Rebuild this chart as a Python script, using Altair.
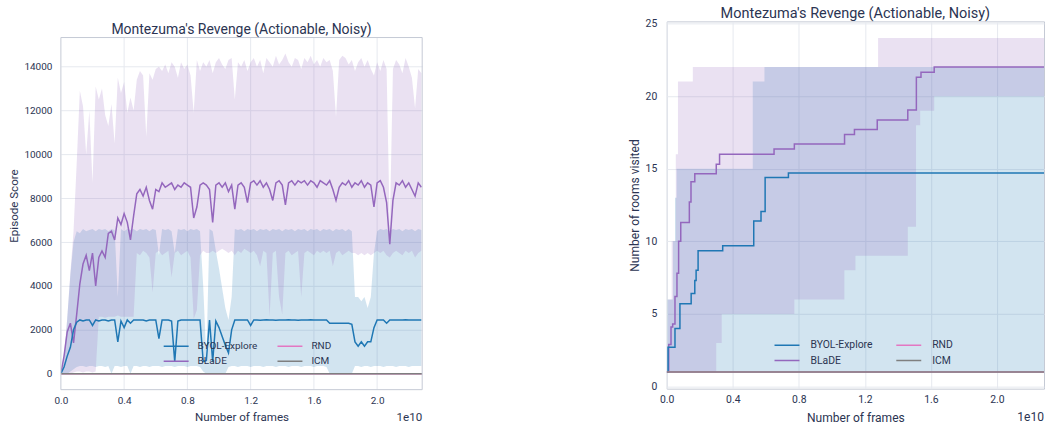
import altair as alt
import pandas as pd

FONT = "Roboto"
TEXT = "#2b3452"
GRID = "#e6e9ef"
BORDER = "#c5cad5"

# ---------------- left panel data (x in units of 1e10 frames) ----------------
X_LEFT = [round(0.02 * i, 2) for i in range(115)]
X_FLAT_LEFT = [0.0, 2.285]
X_TICKS = [0.0, 0.4, 0.8, 1.2, 1.6, 2.0]

BLADE_MEAN_L = [
    0, 800, 1900, 2300, 1400, 2700, 4100, 5000, 5400, 4700,
    5500, 4000, 5300, 5600, 5300, 6400, 6500, 6100, 7100, 6800,
    7300, 6900, 6100, 7200, 8200, 8400, 8100, 8500, 7900, 7500,
    8400, 8300, 8700, 8500, 8600, 8700, 8400, 8600, 8500, 8700,
    8600, 8500, 7100, 7600, 8600, 8700, 8600, 8400, 6900, 8600,
    8700, 8500, 8700, 8300, 8600, 7500, 8600, 8700, 8500, 7800,
    8700, 8800, 8600, 8800, 8500, 8700, 8400, 7900, 8700, 8800,
    8600, 7700, 8700, 8800, 8600, 8800, 8700, 8800, 8600, 8800,
    8700, 8500, 8800, 8700, 8600, 8800, 8400, 7900, 8500, 8700,
    8600, 8800, 8500, 8700, 8600, 8800, 8500, 8700, 8600, 7600,
    8700, 8800, 8500, 7800, 5900, 7900, 8700, 8600, 8800, 8500,
    8700, 8400, 8100, 8700, 8500]
BLADE_HI_L = [
    0, 900, 2500, 4600, 6500, 9600, 12900, 12200, 10000, 12000,
    8700, 13100, 12500, 13000, 11800, 11300, 12300, 10500, 13500, 12800,
    13300, 11900, 12600, 12000, 13400, 13800, 13600, 10800, 13700, 13400,
    13900, 14000, 13800, 14100, 13700, 14200, 14000, 13500, 14200, 13900,
    14100, 13600, 11900, 14300, 13800, 14200, 14000, 14300, 13700, 14200,
    14400, 14100, 13900, 14300, 14400, 12500, 14200, 14000, 14300, 13800,
    14200, 14400, 14000, 14300, 13700, 14400, 14200, 14000, 14500, 14100,
    14300, 14600, 14200, 14000, 14400, 14300, 13900, 14400, 14200, 14500,
    14100, 14300, 14000, 14400, 14200, 14300, 13800, 11700, 14300, 14500,
    14400, 14100, 14300, 13800, 14200, 14400, 14000, 14300, 13900, 13600,
    14200, 13800, 14300, 13900, 6600, 13900, 14300, 14100, 13700, 14400,
    14000, 13500, 12100, 13900, 13700]
BLADE_LO_L = [
    0, 0, 0, 0, 50, 100, 100, 50, 100, 100,
    50, 100, 2600, 2600, 2550, 2600, 2600, 2600, 2650, 2600,
    2600, 2600, 2600, 2600, 5500, 5400, 5600, 5500, 5300, 3700,
    5500, 5600, 5400, 5500, 5600, 4400, 5500, 5600, 5400, 5500,
    5600, 5300, 2500, 2900, 5400, 5600, 5500, 5500, 5600, 5500,
    5600, 5700, 5600, 5500, 5600, 5400, 5600, 5500, 5700, 5600,
    5500, 5600, 5400, 4900, 5600, 5500, 2600, 5500, 5600, 3500,
    2700, 5500, 5600, 5400, 5500, 5600, 3500, 5500, 5600, 5500,
    5400, 5600, 5500, 5600, 5500, 5600, 4900, 5500, 5600, 5400,
    5500, 5600, 5500, 5500, 5400, 5500, 5400, 5500, 5400, 5500,
    5600, 5500, 5600, 5400, 5300, 5500, 5600, 5500, 5400, 5600,
    5500, 5600, 5300, 5500, 5600]
BYOL_MEAN_L = [
    0, 300, 800, 1200, 2000, 2350, 2450, 2400, 2450, 2450,
    2200, 2450, 2400, 2450, 2450, 2400, 2450, 2450, 1450, 2400,
    2100, 2450, 2300, 2450, 2450, 2450, 2450, 2400, 2450, 2450,
    2450, 1600, 2450, 2450, 2450, 2400, 550, 2400, 2450, 2450,
    2450, 2450, 2450, 2450, 2450, 550, 600, 2450, 550, 2400,
    2100, 1700, 1300, 950, 2000, 2450, 2450, 2450, 2450, 2450,
    2200, 2450, 2450, 2440, 2450, 2460, 2450, 2450, 2440, 2450,
    2450, 2450, 2460, 2450, 2450, 2440, 2450, 2450, 2450, 2460,
    2450, 2450, 2450, 2450, 2450, 2300, 2300, 2300, 2300, 2300,
    2300, 2300, 2250, 1450, 1250, 1450, 1250, 1450, 1450, 2100,
    2450, 2450, 2450, 2300, 2450, 2450, 2450, 2450, 2450, 2460,
    2450, 2450, 2450, 2450, 2450]
BYOL_HI_L = [
    0, 500, 2500, 4500, 6000, 6500, 6400, 6600, 6500, 6550,
    6600, 6500, 6600, 6550, 6600, 6500, 6600, 6550, 3500, 6600,
    6500, 6600, 6550, 6600, 6500, 6600, 6550, 6600, 6500, 6600,
    6550, 5400, 6600, 6550, 6600, 6500, 5500, 6600, 6550, 6600,
    6500, 6600, 6550, 6600, 6500, 4000, 700, 6600, 6500, 5600,
    4800, 3900, 3000, 2450, 3500, 6600, 6550, 6600, 6500, 6600,
    6550, 6600, 6500, 6600, 6550, 6600, 6500, 6600, 6550, 6600,
    6500, 6600, 6550, 6600, 6500, 6600, 6550, 6600, 6500, 6600,
    6550, 6600, 6500, 6600, 6550, 6600, 6500, 6600, 6550, 6600,
    6500, 6600, 6500, 3500, 3500, 3300, 3500, 3000, 3500, 5500,
    6500, 6600, 6550, 6600, 6500, 6600, 6550, 6600, 6500, 6600,
    6550, 6600, 6500, 6600, 6550]
BYOL_LO_L = [
    0, 0, 0, 100, 200, 300, 350, 350, 300, 350,
    350, 300, 350, 350, 300, 350, 0, 350, 350, 300,
    350, 350, 0, 350, 350, 300, 350, 350, 300, 350,
    350, 350, 300, 350, 350, 350, 300, 350, 350, 350,
    300, 350, 350, 350, 300, 100, 0, 0, 0, 0,
    0, 0, 0, 300, 350, 350, 300, 350, 350, 350,
    300, 350, 350, 350, 300, 350, 350, 350, 300, 350,
    350, 350, 300, 350, 350, 350, 300, 350, 350, 350,
    300, 350, 350, 350, 300, 0, 0, 0, 0, 0,
    0, 0, 0, 350, 350, 300, 350, 350, 300, 350,
    350, 350, 300, 350, 350, 350, 300, 350, 350, 350,
    300, 350, 350, 350, 350]
RND_L = [0, 0]
ICM_L = [0, 0]

# ---------------- right panel data (step functions) ----------------
X_FLAT_RIGHT = [0.0, 2.285]
BYOL_R_X = [0.0, 0.008, 0.05, 0.08, 0.148, 0.17, 0.178, 0.19, 0.339, 0.527, 0.571, 0.596, 0.737, 2.285]
BYOL_R_Y = [1.0, 2.7, 4.0, 5.7, 6.4, 7.3, 8.0, 9.35, 9.7, 11.4, 12.05, 14.4, 14.7, 14.7]
BLADE_R_X = [0.0, 0.012, 0.026, 0.036, 0.05, 0.062, 0.072, 0.085, 0.137, 0.147, 0.17, 0.30,
             0.32, 0.65, 0.773, 1.077, 1.137, 1.275, 1.46, 1.512, 1.54, 1.62, 2.285]
BLADE_R_Y = [1.0, 2.9, 4.1, 4.3, 6.2, 7.8, 10.0, 11.3, 12.7, 14.1, 14.65, 15.3,
             16.0, 16.35, 16.7, 17.35, 17.7, 18.35, 19.05, 21.3, 21.65, 22.0, 22.0]
BLADE_R_BAND_X = [0.0, 0.008, 0.03, 0.055, 0.068, 0.158, 0.30, 0.333, 0.773, 1.076, 1.143,
                  1.28, 1.46, 1.51, 1.535, 1.62, 2.285]
BLADE_R_LO = [1, 1, 1, 1, 1, 1, 3, 5, 6, 8, 9, 9, 11, 18, 19, 20, 20]
BLADE_R_HI = [1, 6, 10, 16, 21, 22, 22, 22, 22, 22, 22, 24, 24, 24, 24, 24, 24]
BYOL_R_BAND_X = [0.0, 0.005, 0.038, 0.05, 0.06, 0.521, 0.592, 2.285]
BYOL_R_LO = [1, 1, 1, 1, 1, 1, 1, 1]
BYOL_R_HI = [1, 6, 10, 13, 15, 21, 22, 22]
RND_R = [1, 1]
ICM_R = [1, 1]

SERIES = ["BYOL-Explore", "BLaDE", "RND", "ICM"]
COLORS = ["#1f77b4", "#9467bd", "#e377c2", "#7f7f7f"]
TITLE = "Montezuma's Revenge (Actionable, Noisy)"

left_lines = pd.DataFrame({
    "x": X_LEFT + X_LEFT + X_FLAT_LEFT + X_FLAT_LEFT,
    "y": BLADE_MEAN_L + BYOL_MEAN_L + RND_L + ICM_L,
    "series": ["BLaDE"] * len(X_LEFT) + ["BYOL-Explore"] * len(X_LEFT) + ["RND"] * 2 + ["ICM"] * 2,
})
left_bands = pd.DataFrame({
    "x": X_LEFT + X_LEFT,
    "lo": BYOL_LO_L + BLADE_LO_L,
    "hi": BYOL_HI_L + BLADE_HI_L,
    "series": ["BYOL-Explore"] * len(X_LEFT) + ["BLaDE"] * len(X_LEFT),
})
right_lines = pd.DataFrame({
    "x": BLADE_R_X + BYOL_R_X + X_FLAT_RIGHT + X_FLAT_RIGHT,
    "y": BLADE_R_Y + BYOL_R_Y + RND_R + ICM_R,
    "series": ["BLaDE"] * len(BLADE_R_X) + ["BYOL-Explore"] * len(BYOL_R_X) + ["RND"] * 2 + ["ICM"] * 2,
})
right_bands = pd.DataFrame({
    "x": BYOL_R_BAND_X + BLADE_R_BAND_X,
    "lo": BYOL_R_LO + BLADE_R_LO,
    "hi": BYOL_R_HI + BLADE_R_HI,
    "series": ["BYOL-Explore"] * len(BYOL_R_BAND_X) + ["BLaDE"] * len(BLADE_R_BAND_X),
})


def panel(lines, bands, interp, width, height, top, ydomain, yvalues, ytitle, s,
          title_size, title_base, leg_x, leg_y, label_pad_y, title_pad_y, row_pad, col_pad, label_off):
    """top = pixels of empty space between the view's top and the drawn plot frame."""
    own_frame = top > 0
    xenc = alt.X("x:Q", scale=alt.Scale(domain=[0, 2.285], nice=False, zero=False),
                 axis=alt.Axis(values=X_TICKS, format=".1f", grid=not own_frame,
                               title="Number of frames", labelFontSize=10 * s, labelFlush=False,
                               titleFontSize=11.6 * s, labelPadding=6, titlePadding=6))
    yscale = alt.Scale(domain=ydomain, nice=False, zero=False)
    yaxis = alt.Axis(values=yvalues, format="d", title=ytitle, labelFontSize=10 * s, labelFlush=False,
                     titleFontSize=11.6 * s, labelPadding=label_pad_y, titlePadding=title_pad_y)
    layers = []
    if own_frame:
        # vertical grid lines limited to the drawn frame
        layers.append(
            alt.Chart(pd.DataFrame({"x": X_TICKS[1:]}))
            .mark_rule(color=GRID, strokeWidth=1)
            .encode(x=xenc, y=alt.value(top), y2=alt.value(height))
        )
    for name, col in [("BYOL-Explore", "#1f77b4"), ("BLaDE", "#9467bd")]:
        layers.append(
            alt.Chart(bands).transform_filter(alt.datum.series == name)
            .mark_area(color=col, fillOpacity=0.2, strokeWidth=0, interpolate=interp, clip=True)
            .encode(x=xenc, y=alt.Y("lo:Q", scale=yscale, axis=yaxis), y2="hi:Q")
        )
    layers.append(
        alt.Chart(lines).mark_line(strokeWidth=1.5, interpolate=interp, clip=True)
        .encode(
            x=xenc,
            y=alt.Y("y:Q", scale=yscale, axis=yaxis),
            color=alt.Color("series:N", scale=alt.Scale(domain=SERIES, range=COLORS),
                            legend=alt.Legend(title=None, orient="none", legendX=leg_x, legendY=leg_y,
                                              columns=2, symbolType="stroke", symbolSize=625,
                                              symbolStrokeWidth=1.5, labelFontSize=10 * s,
                                              labelFont=FONT, labelColor=TEXT, labelOffset=label_off,
                                              columnPadding=col_pad, rowPadding=row_pad, clipHeight=13,
                                              padding=0)),
        )
    )
    if own_frame:
        layers.append(
            alt.Chart(pd.DataFrame({"k": [0]}))
            .mark_rect(fill="transparent", stroke=BORDER, strokeWidth=1)
            .encode(x=alt.value(0), x2=alt.value(width), y=alt.value(top), y2=alt.value(height))
        )
    layers.append(
        alt.Chart(pd.DataFrame({"t": ["1e10"]}))
        .mark_text(align="right", baseline="middle", font=FONT, fontSize=11.6 * s, color=TEXT)
        .encode(x=alt.value(width), y=alt.value(height + 28.5), text="t:N")
    )
    layers.append(
        alt.Chart(pd.DataFrame({"t": [TITLE]}))
        .mark_text(align="center", baseline="alphabetic", font=FONT, fontSize=title_size, color=TEXT)
        .encode(x=alt.value(width / 2), y=alt.value(title_base), text="t:N")
    )
    chart = alt.layer(*layers).properties(width=width, height=height)
    if own_frame:
        chart = chart.properties(view=alt.ViewBackground(stroke="transparent"))
    return chart


# left view: 369 px tall, frame starts 16.2 px below the view top (top aligned with right panel)
left = panel(left_lines, left_bands, "linear", 362, 369, 16.2, [-730, 16067],
             [0, 2000, 4000, 6000, 8000, 10000, 12000, 14000], "Episode Score", 1.0,
             14, 12.8, 102, 319, 9, 4, 2, 19, 8)
right = panel(right_lines, right_bands, "step-after", 378, 368, 0, [-0.15, 25.15],
              [0, 5, 10, 15, 20, 25], "Number of rooms visited", 1.04,
              14.5, -3.8, 107, 318, 10, 4, 2.3, 22, 10)

chart = (
    alt.hconcat(left, right, spacing=204)
    .resolve_legend(color="independent")
    .properties(padding={"left": 8, "top": 4, "right": 0, "bottom": 0}, background="white")
    .configure_view(stroke=BORDER, strokeWidth=1)
    .configure_axis(grid=True, gridColor=GRID, gridWidth=1, domain=False, ticks=False, tickSize=0,
                    labelColor=TEXT, titleColor=TEXT, labelFont=FONT, titleFont=FONT,
                    titleFontWeight="normal")
)

chart.save("out.html", embed_options={"renderer": "svg", "actions": False})
